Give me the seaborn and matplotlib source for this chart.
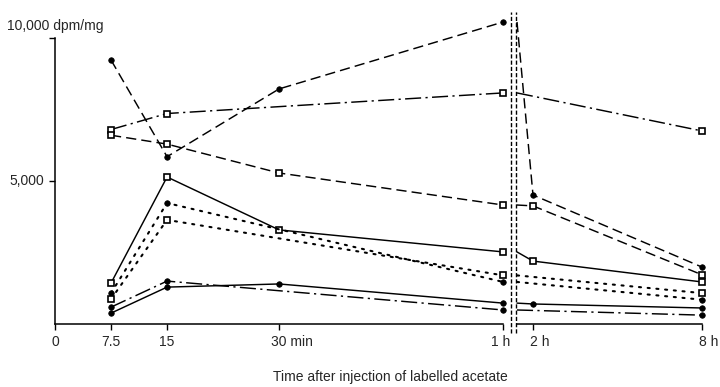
import numpy as np
import pandas as pd
import matplotlib
matplotlib.use("Agg")
import matplotlib.pyplot as plt
import seaborn as sns
from matplotlib.lines import Line2D
from matplotlib.transforms import offset_copy

# ---------------- data (dpm/mg) ----------------
# left part: minutes 7.5, 15, 30, 60 ; right part (after axis break): 2 h, 8 h
# A: dashed, filled circles
A_t = [7.5, 15, 30, 60]
A_v = [9230, 5850, 8220, 10560]
A_rt = [120, 480]
A_rv = [4510, 1990]
# B: dash-dot, open squares
B_t = [7.5, 15, 60]
B_v = [6800, 7360, 8080]
B_rt = [480]
B_rv = [6750]
# C: dashed, open squares
C_t = [7.5, 15, 30, 60]
C_v = [6600, 6290, 5280, 4160]
C_rt = [120, 480]
C_rv = [4130, 1720]
# D: solid, open squares
D_t = [7.5, 15, 30, 60]
D_v = [1430, 5140, 3290, 2520]
D_rt = [120, 480]
D_rv = [2200, 1470]
# E: dotted, filled circles
E_t = [7.5, 15, 60]
E_v = [1080, 4230, 1470]
E_rt = [480]
E_rv = [850]
# F: dotted, open squares
F_t = [7.5, 15, 60]
F_v = [870, 3640, 1700]
F_rt = [480]
F_rv = [1080]
# G: dash-dot, filled circles
G_t = [7.5, 15, 60]
G_v = [590, 1500, 490]
G_rt = [480]
G_rv = [310]
# H: solid, filled circles
H_t = [7.5, 15, 30, 60]
H_v = [380, 1290, 1400, 730]
H_rt = [120, 480]
H_rv = [700, 560]

left_ticks = [0, 7.5, 15, 30, 60]
left_labels = ["0", "7.5", "15", "30 min", "1 h"]
right_ticks = [120, 480]
right_labels = ["2 h", "8 h"]
y_ticks = [5000, 10000]

# ---------------- styles ----------------
LS = {
    "dashed": (0, (7, 3.5)),
    "dashdot": (0, (11, 3, 1.5, 3)),
    "dotted": (0, (1.0, 3.2)),
    "solid": "-",
}
series = [
    (A_t, A_v, A_rt, A_rv, "dashed", "o"),
    (B_t, B_v, B_rt, B_rv, "dashdot", "s"),
    (C_t, C_v, C_rt, C_rv, "dashed", "s"),
    (D_t, D_v, D_rt, D_rv, "solid", "s"),
    (E_t, E_v, E_rt, E_rv, "dotted", "o"),
    (F_t, F_v, F_rt, F_rv, "dotted", "s"),
    (G_t, G_v, G_rt, G_rv, "dashdot", "o"),
    (H_t, H_v, H_rt, H_rv, "solid", "o"),
]

sns.set_theme(style="ticks")
plt.rcParams["font.family"] = ["Liberation Sans", "DejaVu Sans"]
plt.rcParams["axes.edgecolor"] = "black"
plt.rcParams["xtick.color"] = "black"
plt.rcParams["ytick.color"] = "black"

W, H = 720, 387
fig = plt.figure(figsize=(7.2, 3.87), dpi=100)
fig.patch.set_facecolor("white")


def fax(x0, x1, y0=9.4, y1=324):
    return [x0 / W, (H - y1) / H, (x1 - x0) / W, (y1 - y0) / H]


axL = fig.add_axes(fax(55, 513))
axR = fig.add_axes(fax(513, 715))
for ax in (axL, axR):
    ax.set_facecolor("none")

# right part: piecewise scale (1 h at the break, 2 h..8 h linear)
def fwd(t):
    t = np.asarray(t, dtype=float)
    return np.where(t <= 120, (t - 60) / 60 * 16, 16 + (t - 120) / 60 * 28.17)


def inv(u):
    u = np.asarray(u, dtype=float)
    return np.where(u <= 16, 60 + u / 16 * 60, 120 + (u - 16) / 28.17 * 60)


axR.set_xscale("function", functions=(fwd, inv))

for lt, lv, rt, rv, ls, mk in series:
    kw = dict(color="black", linestyle=LS[ls], linewidth=1.05, marker=mk,
              markersize=4.6 if mk == "s" else 4.0,
              markerfacecolor="white" if mk == "s" else "black",
              markeredgecolor="black", markeredgewidth=1.2 if mk == "s" else 0.5,
              legend=False, sort=False, estimator=None)
    if ls == "dotted":
        kw["linewidth"] = 1.5
        kw["dash_capstyle"] = "round"
    sns.lineplot(x=lt, y=lv, ax=axL, **kw)
    sns.lineplot(x=[60] + rt, y=[lv[-1]] + rv, ax=axR,
                 markevery=list(range(1, len(rt) + 1)), **kw)

for ax in (axL, axR):
    ax.set_ylim(0, 11000)
    ax.spines["top"].set_visible(False)
    ax.spines["right"].set_visible(False)
    for s in ax.spines.values():
        s.set_linewidth(1.1)
    ax.set_xlabel("")
    ax.set_ylabel("")

axL.set_xlim(0, (513 - 55) / 7.47)
axR.set_xlim(45, 507.6)
axL.spines["left"].set_bounds(0, 10000)
axL.spines["bottom"].set_bounds(0, 60)
axR.spines["left"].set_visible(False)
axR.spines["bottom"].set_bounds(60, 480)

axL.set_xticks(left_ticks)
axL.set_xticklabels([""] * len(left_ticks))
axL.set_yticks(y_ticks)
axL.set_yticklabels([""] * len(y_ticks))
axR.set_xticks(right_ticks)
axR.set_xticklabels([""] * len(right_ticks))
axR.set_yticks([])
axL.tick_params(axis="both", direction="out", length=4.5, width=1.0)
axR.tick_params(axis="x", direction="out", length=4.5, width=1.0)
axR.minorticks_off()

FS = 10
# x tick labels
ylab = (324 - 342) / (324 - 9.4)
offs = {"0": (0, "center"), "7.5": (0, "center"), "15": (0, "center"),
        "30 min": (-8, "left"), "1 h": (-3, "center")}
for t, lab in zip(left_ticks, left_labels):
    dx, ha = offs[lab]
    tr = offset_copy(axL.get_xaxis_transform(), fig=fig, x=dx, y=0, units="dots")
    axL.text(t, ylab, lab, transform=tr, ha=ha, va="center", fontsize=FS)
for t, lab in zip(right_ticks, right_labels):
    tr = offset_copy(axR.get_xaxis_transform(), fig=fig, x=-3, y=0, units="dots")
    axR.text(t, ylab, lab, transform=tr, ha="left", va="center", fontsize=FS)

# y tick labels
tr = offset_copy(axL.transData, fig=fig, x=-11, y=0, units="dots")
axL.text(0, 5000, "5,000", transform=tr, ha="right", va="center", fontsize=FS)
fig.text(7 / W, 1 - 26 / H, "10,000 dpm/mg", ha="left", va="center", fontsize=FS)

# x axis title
fig.text(390 / W, 1 - 377 / H, "Time after injection of labelled acetate",
         ha="center", va="center", fontsize=FS)

# axis break marks
for xb in (511, 516):
    fig.add_artist(Line2D([xb / W, xb / W], [1 - 333 / H, 1 - 12 / H],
                          transform=fig.transFigure, color="black",
                          linewidth=1.0, linestyle=(0, (3, 1.5))))

fig.savefig("out.png", dpi=100, facecolor="white")
